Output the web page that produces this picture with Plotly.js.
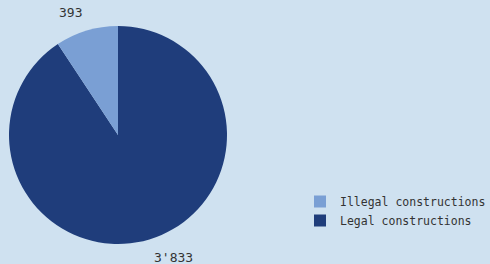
<!DOCTYPE html>
<html><head><meta charset="utf-8">
<script src="https://cdn.plot.ly/plotly-3.0.1.min.js"></script>
<style>html,body{margin:0;padding:0;background:#cfe1f0}</style>
</head><body><div id="chart" style="width:490px;height:264px"></div>
<script>
const categories = ["Legal constructions", "Illegal constructions"];
const values = [3833, 393];
const valueLabels = ["3'833", "393"];
const colors = ["#1f3d7b", "#7a9fd4"];

const W = 490, H = 264;
const dom = {x: [9/W, 227/W], y: [20/H, 238/H]};

// value labels placed just outside the pie at each slice's mid-angle
const total = values.reduce((a, b) => a + b, 0);
const cx = (dom.x[0] + dom.x[1]) / 2 * W;
const cy = (1 - (dom.y[0] + dom.y[1]) / 2) * H;
const R = (dom.x[1] - dom.x[0]) * W / 2 + 9;
let cum = 0;
const annotations = values.map((v, i) => {
  const mid = (cum + v / 2) / total * 2 * Math.PI; // clockwise from 12 o'clock
  cum += v;
  const px = cx + R * Math.sin(mid), py = cy - R * Math.cos(mid);
  return {
    text: valueLabels[i], showarrow: false,
    xref: "paper", yref: "paper", x: px / W, y: 1 - py / H,
    xanchor: Math.sin(mid) >= 0 ? "left" : "right",
    yanchor: Math.cos(mid) >= 0 ? "bottom" : "top",
    font: {family: "DejaVu Sans Mono", size: 13, color: "#333333"}
  };
});

const data = [{
  type: "pie",
  labels: categories,
  values: values,
  textinfo: "none",
  sort: false,
  direction: "clockwise",
  rotation: 0,
  marker: {colors: colors, line: {width: 0}},
  domain: dom,
  hoverinfo: "none"
}];

const layout = {
  width: W, height: H,
  margin: {l: 0, r: 0, t: 0, b: 0, autoexpand: false},
  paper_bgcolor: "#cfe1f0",
  plot_bgcolor: "#cfe1f0",
  showlegend: true,
  annotations: annotations,
  legend: {
    x: 300/W, y: 77/H, xanchor: "left", yanchor: "top",
    traceorder: "reversed",
    font: {family: "DejaVu Sans Mono", size: 11.5, color: "#333333"},
    bgcolor: "rgba(0,0,0,0)", tracegroupgap: 0, itemwidth: 30
  }
};
Plotly.newPlot("chart", data, layout, {staticPlot: true});
</script></body></html>
